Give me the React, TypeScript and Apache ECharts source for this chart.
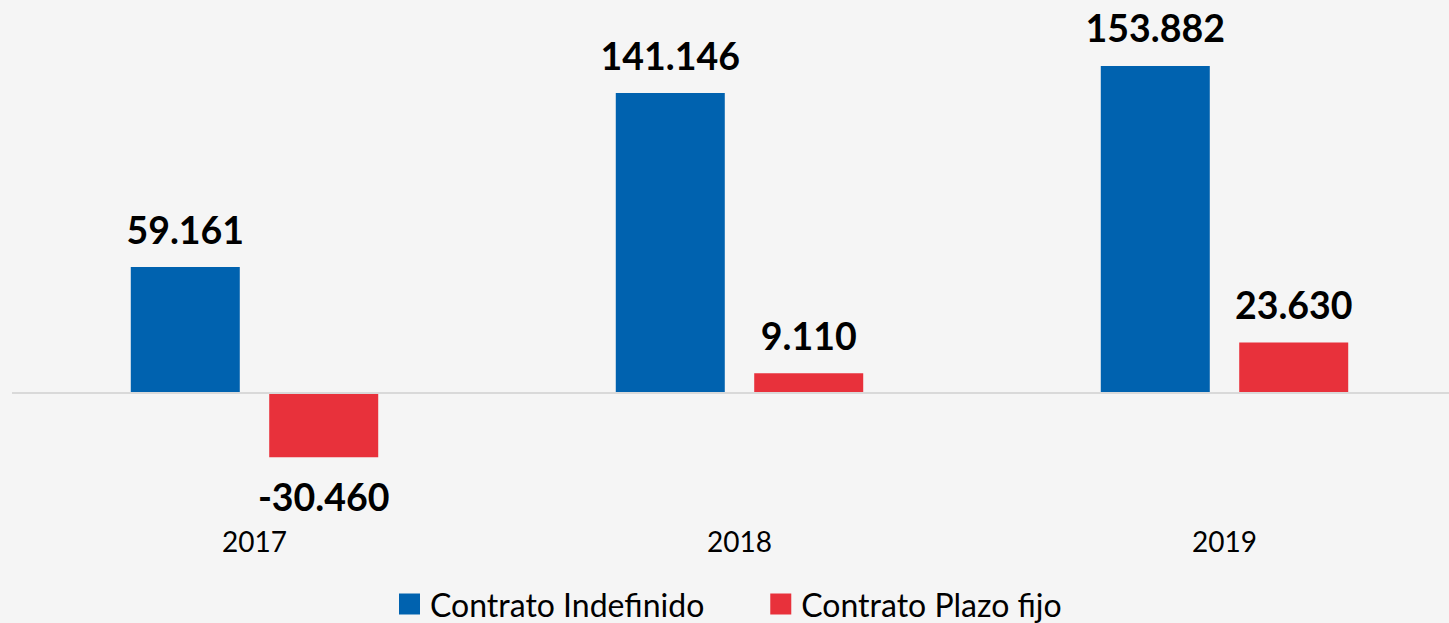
import React, { useEffect, useRef } from "react";
import * as echarts from "echarts";

const categories = ["2017", "2018", "2019"];
const indefinido = [59161, 141146, 153882];
const plazoFijo = [-30460, 9110, 23630];
const seriesNames = ["Contrato Indefinido", "Contrato Plazo fijo"];

const fmt = (v: number) => {
  const s = Math.abs(v).toString().replace(/\B(?=(\d{3})+(?!\d))/g, ".");
  return (v < 0 ? "-" : "") + s;
};

const FONT = "Lato";

const makeData = (arr: number[]) =>
  arr.map((v) => ({
    value: v,
    label: { position: v < 0 ? "bottom" : "top", distance: v < 0 ? 20 : 19 },
  }));

export default function App() {
  const ref = useRef<HTMLDivElement>(null);
  useEffect(() => {
    document.body.style.margin = "0";
    const chart = echarts.init(ref.current!, null, { renderer: "svg" });
    const labelStyle = {
      show: true,
      fontFamily: FONT,
      fontWeight: "bold" as const,
      fontSize: 37.5,
      color: "#000",
      formatter: (p: any) => fmt(p.value),
    };
    chart.setOption({
      animation: false,
      backgroundColor: "#F5F5F5",
      grid: { left: 12, top: 53, width: 1455, height: 467, containLabel: false },
      xAxis: {
        type: "category",
        data: categories,
        axisLine: { show: false },
        axisTick: { show: false },
        axisLabel: { fontFamily: FONT, fontSize: 28, color: "#000", margin: 7 },
        splitLine: { show: false },
      },
      yAxis: {
        type: "value",
        min: -60000,
        max: 160000,
        show: false,
        splitLine: { show: false },
      },
      legend: {
        top: 583,
        left: 394,
        itemWidth: 21,
        itemHeight: 21,
        itemGap: 66,
        icon: "rect",
        textStyle: {
          fontFamily: FONT,
          fontSize: 32,
          lineHeight: 30,
          color: "#000",
          padding: [0, 0, 0, 5],
        },
        data: seriesNames,
      },
      series: [
        {
          name: seriesNames[0],
          type: "bar",
          data: makeData(indefinido),
          barWidth: 109,
          barGap: "27%",
          itemStyle: { color: "#0062AF" },
          label: labelStyle,
          markLine: {
            silent: true,
            symbol: "none",
            label: { show: false },
            lineStyle: { color: "#D9D9D9", width: 2, type: "solid" },
            data: [{ yAxis: 0 }],
          },
        },
        {
          name: seriesNames[1],
          type: "bar",
          data: makeData(plazoFijo),
          barWidth: 109,
          barGap: "27%",
          itemStyle: { color: "#E8313B" },
          label: labelStyle,
        },
      ],
    });
    return () => chart.dispose();
  }, []);
  return (
    <div style={{ width: 1449, height: 623, overflow: "hidden", background: "#F5F5F5" }}>
      <div ref={ref} style={{ width: 1467, height: 623 }} />
    </div>
  );
}
